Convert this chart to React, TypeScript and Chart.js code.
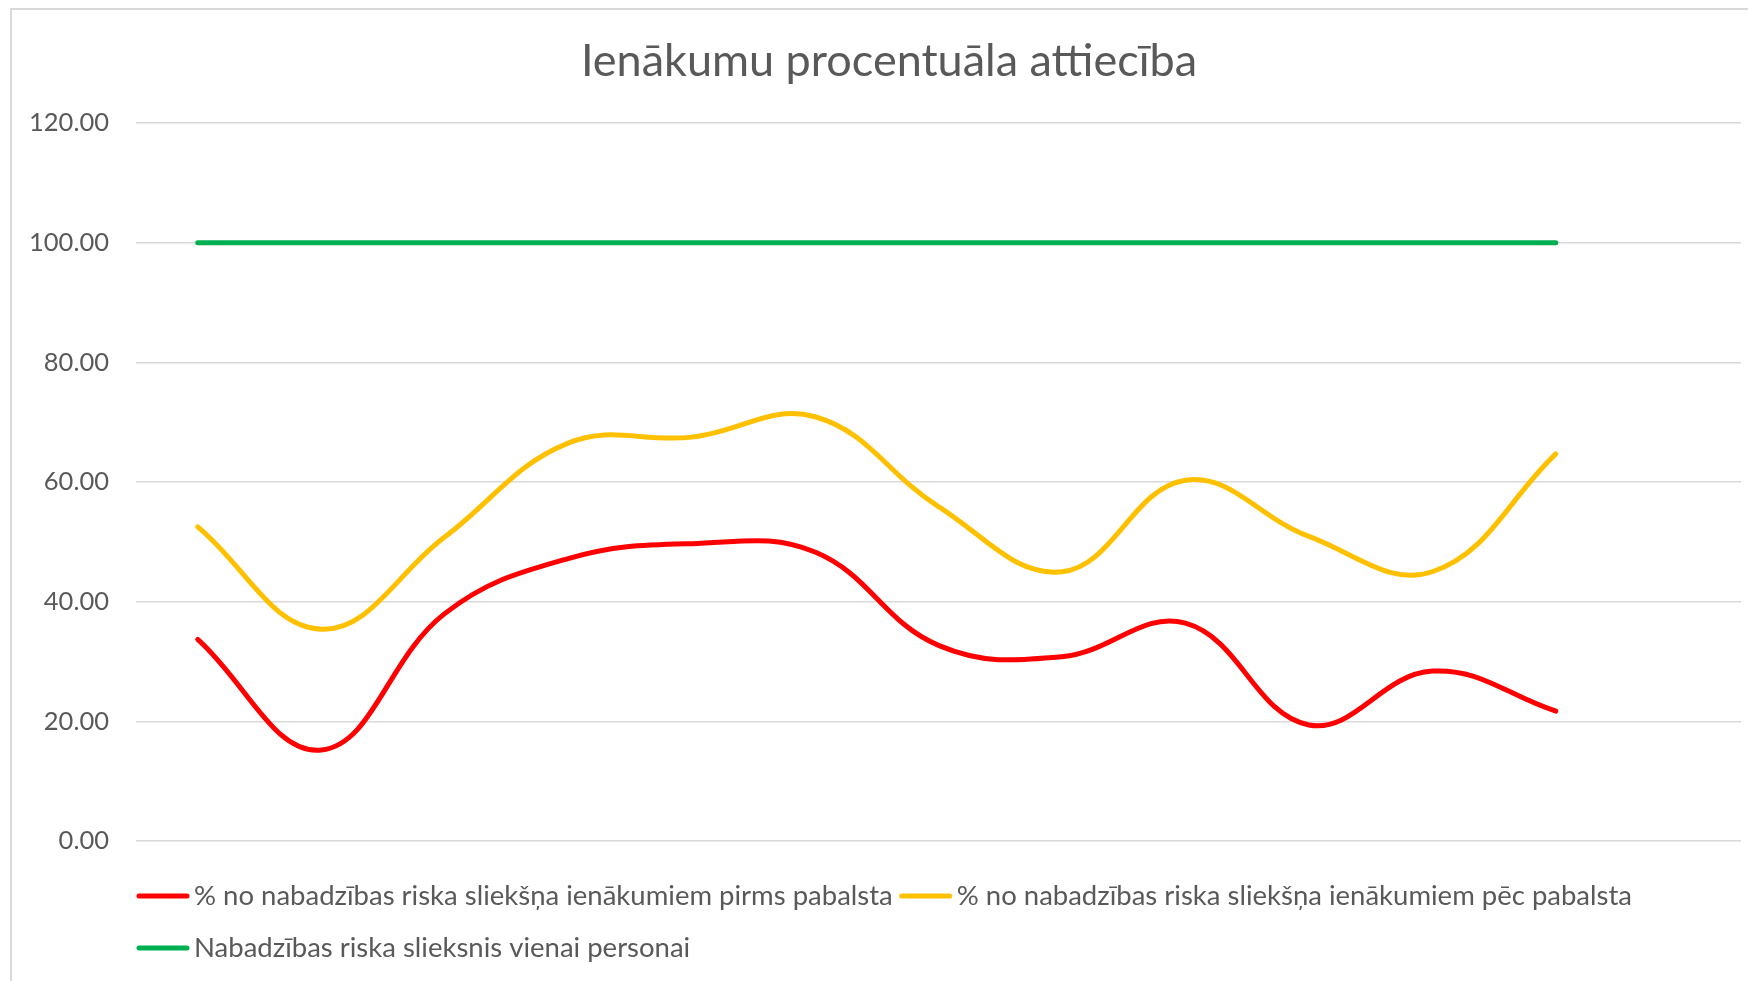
import React, { useEffect, useRef } from "react";
import { Chart, registerables } from "chart.js";

Chart.register(...registerables);

// ---- data ----
const categories = ["1", "2", "3", "4", "5", "6", "7", "8", "9", "10", "11", "12", "13"];
const beforeBenefit = [33.7, 15.2, 38.0, 47.2, 49.7, 48.3, 32.7, 30.8, 36.4, 19.4, 28.4, 21.7];
const afterBenefit = [52.5, 35.4, 50.8, 66.5, 67.5, 70.9, 55.9, 45.0, 60.3, 50.9, 45.0, 64.7];
const threshold = [100, 100, 100, 100, 100, 100, 100, 100, 100, 100, 100, 100];
const seriesLabels = [
  "% no nabadzības riska sliekšņa ienākumiem pirms pabalsta",
  "% no nabadzības riska sliekšņa ienākumiem pēc pabalsta",
  "Nabadzības riska slieksnis vienai personai",
];
const title = "Ienākumu procentuāla attiecība";
const yMin = 0;
const yMax = 120;
const yStep = 20;

const FONT = "Lato, 'Open Sans', sans-serif";
const TEXT = "#595959";

const titlePlugin = {
  id: "excelTitle",
  afterDraw(chart: any) {
    const ctx = chart.ctx;
    ctx.save();
    ctx.font = `45px ${FONT}`;
    ctx.fillStyle = TEXT;
    ctx.textAlign = "center";
    ctx.textBaseline = "middle";
    ctx.fillText(title, 889, 61);
    ctx.restore();
  },
};

const legendPlugin = {
  id: "excelLegend",
  afterDraw(chart: any) {
    const ctx = chart.ctx;
    ctx.save();
    ctx.font = `27.5px ${FONT}`;
    ctx.textBaseline = "middle";
    const startX = 136;
    let x = startX;
    let y = 896;
    chart.data.datasets.forEach((ds: any) => {
      const w = ctx.measureText(ds.label).width;
      if (x + 59 + w > 1700) {
        x = startX;
        y += 52;
      }
      ctx.strokeStyle = ds.borderColor;
      ctx.lineWidth = 5;
      ctx.lineCap = "round";
      ctx.beginPath();
      ctx.moveTo(x + 3, y);
      ctx.lineTo(x + 51, y);
      ctx.stroke();
      ctx.fillStyle = TEXT;
      ctx.textAlign = "left";
      ctx.fillText(ds.label, x + 58, y);
      x += 58 + w + 6;
    });
    ctx.restore();
  },
};

export default function App() {
  const canvasRef = useRef<HTMLCanvasElement | null>(null);

  useEffect(() => {
    const canvas = canvasRef.current;
    if (!canvas) return;
    const lineDs = (label: string, data: number[], color: string) => ({
      label,
      data,
      borderColor: color,
      backgroundColor: color,
      borderWidth: 5,
      tension: 0.4,
      pointRadius: 0,
      pointHoverRadius: 0,
      borderCapStyle: "round" as const,
      borderJoinStyle: "round" as const,
      fill: false,
    });
    const chart = new Chart(canvas, {
      type: "line",
      data: {
        labels: categories,
        datasets: [
          lineDs(seriesLabels[0], beforeBenefit, "#FF0000"),
          lineDs(seriesLabels[1], afterBenefit, "#FFC000"),
          lineDs(seriesLabels[2], threshold, "#00B050"),
        ],
      },
      options: {
        responsive: false,
        animation: false,
        devicePixelRatio: 1,
        layout: { padding: { left: 0, right: 7, top: 123, bottom: 140 } },
        plugins: {
          legend: { display: false },
          title: { display: false },
          tooltip: { enabled: false },
        },
        scales: {
          x: {
            type: "category",
            display: false,
            offset: true,
          },
          y: {
            min: yMin,
            max: yMax,
            afterFit(scale: any) {
              scale.width = 136;
            },
            border: { display: false },
            grid: { color: "#d9d9d9", lineWidth: 1.5, drawTicks: false },
            ticks: {
              stepSize: yStep,
              padding: 27,
              color: TEXT,
              font: { family: FONT, size: 25.5 },
              callback: (v: any) => Number(v).toFixed(2),
            },
          },
        },
      },
      plugins: [titlePlugin, legendPlugin],
    });
    return () => chart.destroy();
  }, []);

  return (
    <div style={{ position: "fixed", left: 0, top: 0, width: 1748, height: 981, overflow: "hidden", background: "#fff" }}>
      <div
        style={{
          position: "absolute",
          left: 10,
          top: 8,
          width: 1770,
          height: 1000,
          border: "2px solid #d9d9d9",
          boxSizing: "border-box",
        }}
      />
      <canvas ref={canvasRef} width={1748} height={981} style={{ position: "absolute", left: 0, top: 0 }} />
    </div>
  );
}
